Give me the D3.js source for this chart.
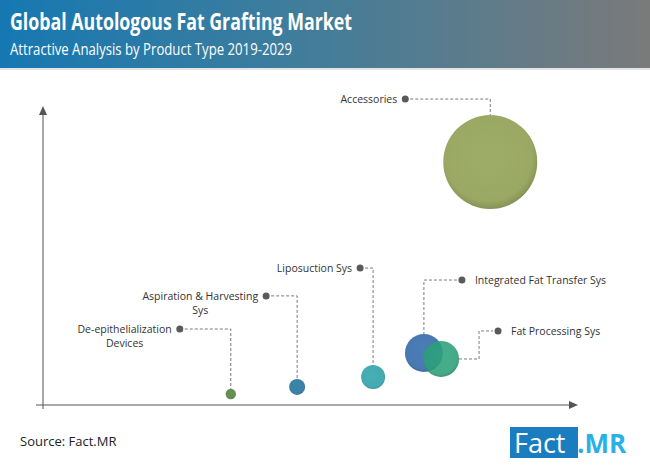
<!DOCTYPE html>
<html>
<head>
<meta charset="utf-8">
<script src="https://cdn.jsdelivr.net/npm/d3@7"></script>
<style>
  body { margin: 0; background: #fff; }
  svg { display: block; }
</style>
</head>
<body>
<svg id="chart" width="650" height="468"></svg>
<script>
// chart values
var categories = ["De-epithelialization Devices", "Aspiration & Harvesting Sys", "Liposuction Sys",
  "Integrated Fat Transfer Sys", "Fat Processing Sys", "Accessories"];
var attractiveness = [35.1, 47.5, 61.7, 71.2, 74.4, 83.6];   // x
var growthIndex = [3.7, 6.1, 9.4, 17.5, 15.5, 81.8];          // y
var marketSize = [1.2, 2.9, 6.5, 16.3, 14.7, 100];            // bubble area
var labelLines = [["De-epithelialization", "Devices"], ["Aspiration & Harvesting", "Sys"], ["Liposuction Sys"],
  ["Integrated Fat Transfer Sys"], ["Fat Processing Sys"], ["Accessories"]];

// layout / style (not data)
var colors = ["#4c7e3e", "#1f6f98", "#2b9ea6", "#2f66a6", "#2b9e78", "#8c9c4e"];
var calloutOffset = [[-51, -65], [-31, -91], [-13, -109], [38, -73], [57, -28], [-85, -63]];
var calloutSide = ["left", "left", "left", "right", "right", "left"];
var calloutKind = ["top", "top", "top", "top", "side", "top"];

var svg = d3.select("#chart");
var W = 650, H = 468;

// header
var defs = svg.append("defs");
var hg = defs.append("linearGradient").attr("id", "hdr");
hg.append("stop").attr("offset", "0%").attr("stop-color", "#1678b2");
hg.append("stop").attr("offset", "45%").attr("stop-color", "#3f7d9c");
hg.append("stop").attr("offset", "100%").attr("stop-color", "#7a7a7a");
svg.append("rect").attr("width", W).attr("height", 68).attr("fill", "url(#hdr)");
svg.append("rect").attr("y", 68).attr("width", W).attr("height", 2).attr("fill", "#e4e4e4");

function fitText(sel, width) {
  var len = sel.node().getComputedTextLength();
  if (len > 0) sel.attr("textLength", width).attr("lengthAdjust", "spacingAndGlyphs");
}

var title = svg.append("text").attr("x", 10).attr("y", 30)
  .attr("font-family", "Open Sans, sans-serif").attr("font-weight", "bold").attr("font-size", 23)
  .attr("fill", "#fff").text("Global Autologous Fat Grafting Market");
fitText(title, 342);
var sub = svg.append("text").attr("x", 10).attr("y", 55)
  .attr("font-family", "Open Sans, sans-serif").attr("font-size", 16)
  .attr("fill", "#fff").text("Attractive Analysis by Product Type 2019-2029");
fitText(sub, 282);

// scales
var x = d3.scaleLinear().domain([0, 100]).range([43, 578]);
var y = d3.scaleLinear().domain([0, 100]).range([405, 108]);
var r = d3.scaleSqrt().domain([0, 100]).range([0, 47]);

// axes with arrow heads
var axisColor = "#555";
var ax = svg.append("g");
ax.append("line").attr("x1", x(0) - 7).attr("x2", x(100) - 6)
  .attr("y1", y(0)).attr("y2", y(0)).attr("stroke", axisColor);
ax.append("line").attr("x1", x(0)).attr("x2", x(0))
  .attr("y1", y(0) + 4).attr("y2", y(100) + 4).attr("stroke", axisColor);
ax.append("path").attr("d", d3.line()([[x(100), y(0)], [x(100) - 9, y(0) - 4], [x(100) - 9, y(0) + 4]]) + "Z")
  .attr("fill", axisColor);
ax.append("path").attr("d", d3.line()([[x(0), y(100) - 2], [x(0) - 4, y(100) + 7], [x(0) + 4, y(100) + 7]]) + "Z")
  .attr("fill", axisColor);

// bubble gradients
colors.forEach(function (c, i) {
  var g = defs.append("radialGradient").attr("id", "bub" + i)
    .attr("cx", "48%").attr("cy", "45%").attr("r", "55%");
  g.append("stop").attr("offset", "0%").attr("stop-color", d3.color(c).brighter(0.1));
  g.append("stop").attr("offset", "85%").attr("stop-color", c);
  g.append("stop").attr("offset", "100%").attr("stop-color", d3.color(c).darker(0.5));
});

var data = categories.map(function (name, i) {
  return { name: name, x: attractiveness[i], y: growthIndex[i], size: marketSize[i], i: i };
});

// callouts
var callouts = svg.append("g");
data.forEach(function (d) {
  var cx = x(d.x), cy = y(d.y), rr = r(d.size);
  var off = calloutOffset[d.i];
  var dotX = cx + off[0], dotY = cy + off[1];
  var pts;
  if (calloutKind[d.i] === "side") {
    var midX = cx + rr + 20;
    pts = [[cx + rr, cy], [midX, cy], [midX, dotY], [dotX - 5, dotY]];
  } else {
    var gap = calloutSide[d.i] === "left" ? 5 : -5;
    pts = [[dotX + gap, dotY], [cx, dotY], [cx, cy - rr]];
  }
  callouts.append("path").attr("d", d3.line()(pts))
    .attr("fill", "none").attr("stroke", "#7a7a7a").attr("stroke-width", 1)
    .attr("stroke-dasharray", "3,2");
  callouts.append("circle").attr("cx", dotX).attr("cy", dotY).attr("r", 3.5).attr("fill", "#5a5a5a");

  var lines = labelLines[d.i];
  var t = callouts.append("text")
    .attr("font-family", "Open Sans, sans-serif").attr("font-size", 10.5).attr("fill", "#333");
  var spans = lines.map(function (s, k) {
    return t.append("tspan").attr("dy", k === 0 ? 0 : 14).text(s);
  });
  var w = d3.max(spans, function (s) { return s.node().getComputedTextLength(); });
  var anchorX = calloutSide[d.i] === "left" ? dotX - 8 - w / 2 : dotX + 13 + w / 2;
  t.attr("text-anchor", "middle").attr("y", dotY + 4);
  spans.forEach(function (s) { s.attr("x", anchorX); });
});

// bubbles
svg.append("g").selectAll("circle").data(data).enter().append("circle")
  .attr("cx", function (d) { return x(d.x); })
  .attr("cy", function (d) { return y(d.y); })
  .attr("r", function (d) { return r(d.size); })
  .attr("fill", function (d) { return "url(#bub" + d.i + ")"; })
  .attr("fill-opacity", 0.88);

// footer
svg.append("text").attr("x", 20).attr("y", 446)
  .attr("font-family", "Open Sans, sans-serif").attr("font-size", 13).attr("fill", "#222")
  .text("Source: Fact.MR");
var logo = svg.append("g");
logo.append("rect").attr("x", 510).attr("y", 427).attr("width", 68).attr("height", 31).attr("fill", "#1a7dbf");
logo.append("text").attr("x", 514).attr("y", 453)
  .attr("font-family", "Open Sans, sans-serif").attr("font-size", 27).attr("fill", "#fff").text("Fact");
logo.append("text").attr("x", 577).attr("y", 453)
  .attr("font-family", "Open Sans, sans-serif").attr("font-weight", "bold").attr("font-size", 26)
  .attr("fill", "#2ab0e6").text(".MR");
</script>
</body>
</html>
